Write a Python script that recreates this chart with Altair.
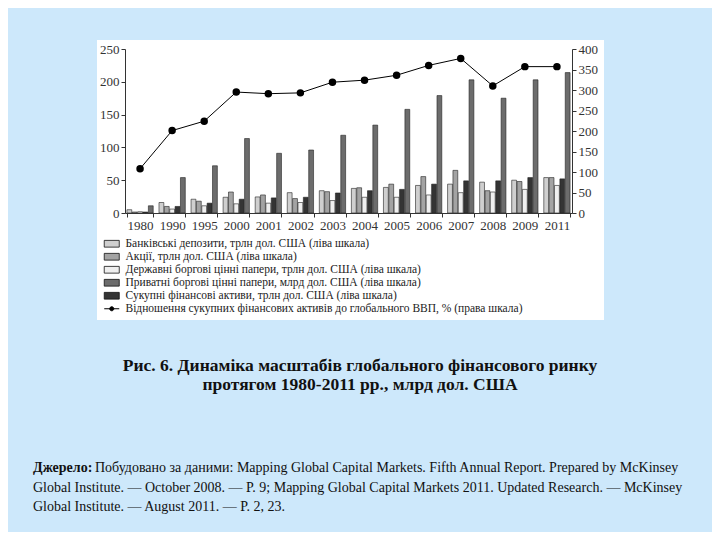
import altair as alt
import pandas as pd

years = ["1980", "1990", "1995", "2000", "2001", "2002", "2003", "2004",
         "2005", "2006", "2007", "2008", "2009", "2011"]
bank = [5, 16, 21, 24, 24.5, 31, 34, 37.5, 39, 42, 44, 47, 50, 54]
shares = [1.5, 10, 18, 32, 27.5, 22, 32.5, 38.5, 44, 55.5, 65, 34, 48, 54]
gov = [2, 6, 11, 14, 15, 16, 19, 24, 24, 27.5, 31, 32, 36, 42]
total = [1.5, 10, 15, 21, 23, 24, 30.5, 34, 36, 44, 49, 49, 54, 52]
private = [11, 54, 72, 113.5, 91, 96, 118.5, 134, 158, 179, 203, 175, 203, 214]
ratio = [108, 201, 224, 295, 291, 293, 319, 324, 336, 360, 377, 310, 357, 357]

bank_lbl = "Банківські депозити, трлн дол. США (ліва шкала)"
shares_lbl = "Акції, трлн дол. США (ліва шкала)"
gov_lbl = "Державні боргові цінні папери, трлн дол. США (ліва шкала)"
private_lbl = "Приватні боргові цінні папери, млрд дол. США (ліва шкала)"
total_lbl = "Сукупні фінансові активи, трлн дол. США (ліва шкала)"
ratio_lbl = "Відношення сукупних фінансових активів до глобального ВВП, % (права шкала)"

legend_order = [bank_lbl, shares_lbl, gov_lbl, private_lbl, total_lbl]
bar_order = [bank_lbl, shares_lbl, gov_lbl, total_lbl, private_lbl]
colors = ["#cfcfcf", "#a3a3a3", "#efefef", "#6c6c6c", "#343434"]

caption_lines = ["Рис. 6. Динаміка масштабів глобального фінансового ринку",
                 "протягом 1980-2011 рр., млрд дол. США"]
source_head = "Джерело:"
source_lines = [
    "Побудовано за даними: Mapping Global Capital Markets. Fifth Annual Report. Prepared by McKinsey",
    "Global Institute. — October 2008. — P. 9; Mapping Global Capital Markets 2011. Updated Research. — McKinsey",
    "Global Institute. — August 2011. — P. 2, 23.",
]

series_vals = {bank_lbl: bank, shares_lbl: shares, gov_lbl: gov,
               private_lbl: private, total_lbl: total}
rows = []
for i, y in enumerate(years):
    for name in bar_order:
        rows.append({"year": y, "series": name, "value": series_vals[name][i]})
bars_df = pd.DataFrame(rows)
line_df = pd.DataFrame({"year": years, "ratio": ratio, "series": [ratio_lbl] * len(years)})

SERIF = "Liberation Serif"

x_enc = alt.X("year:O", sort=years,
              scale=alt.Scale(paddingInner=0.18, paddingOuter=0.06),
              axis=alt.Axis(title=None, labelAngle=0, tickBand="extent",
                            labelFont=SERIF, labelFontSize=13, labelColor="#333",
                            domainColor="#333", tickColor="#333", tickSize=4,
                            labelPadding=2, zindex=2))

rect_bg = alt.Chart(pd.DataFrame({"a": [0]})).mark_rect(fill="white").encode(
    x=alt.value(-28), x2=alt.value(479), y=alt.value(-9), y2=alt.value(271))

bars = alt.Chart(bars_df).mark_bar(stroke="#222", strokeWidth=0.6).encode(
    x=x_enc,
    xOffset=alt.XOffset("series:N", scale=alt.Scale(domain=bar_order, paddingInner=0.1)),
    y=alt.Y("value:Q", scale=alt.Scale(domain=[0, 250]),
            axis=alt.Axis(title=None, values=[0, 50, 100, 150, 200, 250],
                          labelFont=SERIF, labelFontSize=13, labelColor="#333",
                          domainColor="#333", tickColor="#333", tickSize=4,
                          grid=False, zindex=2)),
    fill=alt.Fill("series:N", scale=alt.Scale(domain=legend_order, range=colors),
                  legend=alt.Legend(title=None, orient="none", legendX=-19, legendY=189,
                                    symbolType="M-1.67,-0.75H1.67V0.75H-1.67Z",
                                    symbolSize=81, symbolStrokeColor="#111",
                                    symbolStrokeWidth=0.8, labelFont=SERIF,
                                    labelFontSize=11.5, labelColor="#222",
                                    labelOffset=8, rowPadding=0, padding=0,
                                    labelLimit=600, zindex=2)),
)

line = alt.Chart(line_df).mark_line(
    color="black", strokeWidth=1,
    point=alt.OverlayMarkDef(filled=True, fill="black", size=30)).encode(
    x=alt.X("year:O", sort=years),
    y=alt.Y("ratio:Q", scale=alt.Scale(domain=[0, 400]),
            axis=alt.Axis(title=None, orient="right",
                          values=[0, 50, 100, 150, 200, 250, 300, 350, 400],
                          labelFont=SERIF, labelFontSize=13, labelColor="#333",
                          domainColor="#333", tickColor="#333", tickSize=4,
                          grid=False, zindex=2)),
    stroke=alt.Stroke("series:N", scale=alt.Scale(domain=[ratio_lbl], range=["black"]),
                      legend=alt.Legend(title=None, orient="none", legendX=-19, legendY=254,
                                        symbolType="M-1.67,0H1.67M0.45,0A0.45,0.45 0 1,1 -0.45,0A0.45,0.45 0 1,1 0.45,0Z",
                                        symbolSize=81, symbolStrokeWidth=1,
                                        symbolFillColor="black", labelFont=SERIF,
                                        labelFontSize=11.5, labelColor="#222",
                                        labelOffset=8, padding=0, labelLimit=600,
                                        zindex=2)),
)

cap_df = pd.DataFrame({"t": ["\n".join(caption_lines)]})
caption = alt.Chart(cap_df).mark_text(
    font=SERIF, fontSize=17.5, fontWeight="bold", align="center", baseline="middle",
    color="#111", lineBreak="\n", lineHeight=18.5).encode(
    x=alt.value(235), y=alt.value(317), text="t:N")

head = alt.Chart(pd.DataFrame({"t": [source_head]})).mark_text(
    font=SERIF, fontSize=14, fontWeight="bold", align="left", baseline="middle",
    color="#111").encode(x=alt.value(-92), y=alt.value(419), text="t:N")

src1 = alt.Chart(pd.DataFrame({"t": [source_lines[0]]})).mark_text(
    font=SERIF, fontSize=14, align="left", baseline="middle", color="#111").encode(
    x=alt.value(-30), y=alt.value(419), text="t:N")

src_rest = alt.Chart(pd.DataFrame({"t": ["\n".join(source_lines[1:])]})).mark_text(
    font=SERIF, fontSize=14, align="left", baseline="top", color="#111",
    lineBreak="\n", lineHeight=18.5).encode(
    x=alt.value(-92), y=alt.value(432), text="t:N")

chart = alt.layer(rect_bg, bars, line, caption, head, src1, src_rest).resolve_scale(
    y="independent"
).properties(
    width=447, height=164,
    padding={"left": 117, "top": 41, "right": 140, "bottom": 319},
    autosize=alt.AutoSizeParams(type="none"),
    background="#cde8fb",
).configure_view(stroke=None).configure_legend(labelFont=SERIF)

chart.save("out.html", embed_options={"renderer": "svg", "actions": False})
